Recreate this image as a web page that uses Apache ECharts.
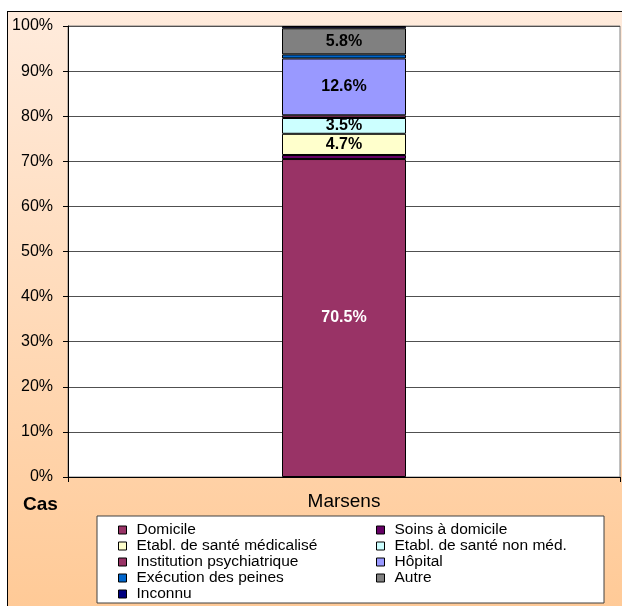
<!DOCTYPE html>
<html><head><meta charset="utf-8">
<script src="https://cdn.jsdelivr.net/npm/echarts@6/dist/echarts.min.js"></script>
<style>
html,body{margin:0;padding:0;background:#fff;width:622px;height:606px;overflow:hidden;}
#c{position:absolute;left:7px;top:11px;width:615px;height:595px;border-left:1px solid #000;border-top:1px solid #000;}
</style></head><body><div id="c"></div>
<script>
const categories = ['Marsens'];
const yTicks = [0, 10, 20, 30, 40, 50, 60, 70, 80, 90, 100];
const seriesNames = ['Domicile', 'Soins à domicile', 'Etabl. de santé médicalisé', 'Etabl. de santé non méd.',
  'Institution psychiatrique', 'Hôpital', 'Exécution des peines', 'Autre', 'Inconnu'];
const domicile = [70.5];
const soinsDomicile = [0.9];
const etablMedicalise = [4.7];
const etablNonMed = [3.5];
const institutionPsy = [0.6];
const hopital = [12.6];
const executionPeines = [0.9];
const autre = [5.8];
const inconnu = [0.5];
const seriesValues = [domicile, soinsDomicile, etablMedicalise, etablNonMed, institutionPsy, hopital, executionPeines, autre, inconnu];
const labeled = [true, false, true, true, false, true, false, true, false];

const colors = ['#993366', '#660066', '#FFFFCC', '#CCFFFF', '#993366', '#9999FF', '#0066CC', '#808080', '#000080'];
const labelColors = ['#fff', '#000', '#000', '#000', '#000', '#000', '#000', '#000', '#000'];
const FONT = 'Liberation Sans, Arial, sans-serif';

const chart = echarts.init(document.getElementById('c'), null, {renderer: 'canvas'});
const series = seriesNames.map((n, i) => ({
  name: n,
  type: 'bar',
  stack: 'total',
  barWidth: 124,
  data: seriesValues[i],
  itemStyle: {color: colors[i], borderColor: '#000', borderWidth: 1},
  emphasis: {disabled: true},
  label: {
    show: labeled[i], position: 'inside', formatter: p => p.value.toFixed(1) + '%',
    color: labelColors[i], fontWeight: 'bold', fontSize: 16, fontFamily: FONT
  }
}));

const leftCol = seriesNames.filter((_, i) => i % 2 === 0);
const rightCol = seriesNames.filter((_, i) => i % 2 === 1);
const legendCommon = {
  orient: 'vertical', itemWidth: 8, itemHeight: 8, itemGap: 0, icon: 'rect',
  selectedMode: false, padding: 0, height: 84,
  textStyle: {fontSize: 15.5, fontFamily: FONT, color: '#000', lineHeight: 15.2, padding: [0, 0, 0, 5]},
  itemStyle: {borderColor: '#000', borderWidth: 1}
};

chart.setOption({
  animation: false,
  backgroundColor: {type: 'linear', x: 0, y: 0, x2: 0, y2: 1,
    colorStops: [{offset: 0, color: '#FFEBDC'}, {offset: 1, color: '#FFCA97'}]},
  grid: {left: 60, top: 14, width: 552, height: 451, show: true, backgroundColor: '#fff', borderColor: '#808080', borderWidth: 1},
  xAxis: {
    type: 'category', data: categories,
    axisLine: {lineStyle: {color: '#000'}},
    axisTick: {show: true, length: 5, lineStyle: {color: '#000'}},
    axisLabel: {fontSize: 19, fontFamily: FONT, color: '#000', margin: 15}
  },
  yAxis: {
    type: 'value', min: 0, max: 100, interval: 10,
    axisLine: {show: true, lineStyle: {color: '#000'}},
    axisTick: {show: true, length: 5, lineStyle: {color: '#000'}},
    axisLabel: {fontSize: 16, fontFamily: FONT, color: '#000', margin: 15, formatter: v => yTicks.includes(v) ? v + '%' : ''},
    splitLine: {lineStyle: {color: '#505050', width: 1}}
  },
  legend: [
    Object.assign({}, legendCommon, {data: leftCol, left: 110, top: 510}),
    Object.assign({}, legendCommon, {data: rightCol, left: 368, top: 510})
  ],
  graphic: [
    {type: 'rect', shape: {x: 89, y: 504, width: 507, height: 87}, style: {fill: '#fff', stroke: '#404040', lineWidth: 1}, z: -1},
    {type: 'text', x: 15, y: 493, style: {text: 'Cas', font: 'bold 19px ' + FONT, fill: '#000', verticalAlign: 'middle'}}
  ],
  series: series
});
</script></body></html>
